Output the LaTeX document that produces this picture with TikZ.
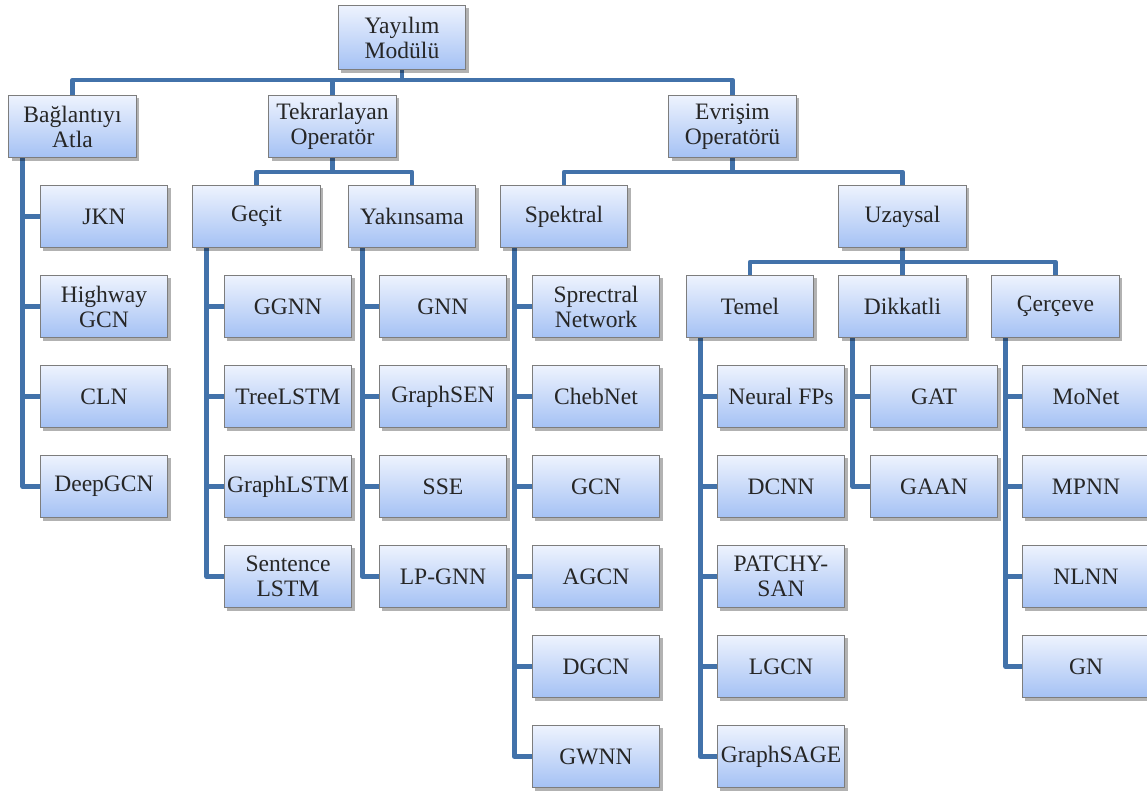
\documentclass[tikz,border=0pt]{standalone}
\usepackage{fontspec}
\setmainfont{Liberation Serif}
\usetikzlibrary{shadows,backgrounds}
\definecolor{boxtop}{RGB}{238,243,254}
\definecolor{boxbot}{RGB}{164,193,244}
\definecolor{boxedge}{RGB}{125,125,125}
\definecolor{linkblue}{RGB}{66,114,170}
\tikzset{
  box/.style={draw=boxedge, line width=0.6pt, top color=boxtop, bottom color=boxbot,
    minimum width=72.6pt, minimum height=35.7pt, inner sep=0.5pt, align=center,
    font=\fontsize{13.4}{14.2}\selectfont, text=black!85,
    drop shadow={shadow xshift=1.6pt, shadow yshift=-1.6pt, fill=black, opacity=0.3}},
  link/.style={draw=linkblue, line width=2.7pt, line join=round},
}
\begin{document}
\begin{tikzpicture}[x=0.02cm,y=-0.02cm]
\useasboundingbox (0,0) rectangle (1147,791);

% level 0 and 1
\node[box, minimum height=36.8pt] (root) at (402,37.5) {Yayılım\\Modülü};
\node[box] (bag) at (72.5,126.5) {Bağlantıyı\\Atla};
\node[box] (tek) at (332.5,126.5) {Tekrarlayan\\Operatör};
\node[box] (evr) at (732.5,126.5) {Evrişim\\Operatörü};

% skip connections
\node[box] (jkn) at (104,216.5) {JKN};
\node[box] (hwy) at (104,306.5) {Highway\\GCN};
\node[box] (cln) at (104,396.5) {CLN};
\node[box] (dgc) at (104,486.5) {DeepGCN};

% recurrent operators
\node[box] (gec) at (256.5,216.5) {Geçit};
\node[box] (yak) at (412,216.5) {Yakınsama};
\node[box] (ggnn) at (288,306.5) {GGNN};
\node[box] (tree) at (288,396.5) {TreeLSTM};
\node[box] (glstm) at (288,486.5) {GraphLSTM};
\node[box] (sent) at (288,576.5) {Sentence\\LSTM};
\node[box] (gnn) at (443,306.5) {GNN};
\node[box] (gsen) at (443,396.5) {GraphSEN};
\node[box] (sse) at (443,486.5) {SSE};
\node[box] (lpg) at (443,576.5) {LP-GNN};

% convolution operators
\node[box] (spe) at (564,216.5) {Spektral};
\node[box] (uza) at (902.5,216.5) {Uzaysal};
\node[box] (snet) at (596,306.5) {Sprectral\\Network};
\node[box] (cheb) at (596,396.5) {ChebNet};
\node[box] (gcn) at (596,486.5) {GCN};
\node[box] (agcn) at (596,576.5) {AGCN};
\node[box] (dgcn) at (596,666.5) {DGCN};
\node[box] (gwnn) at (596,756.5) {GWNN};

\node[box] (tem) at (750,306.5) {Temel};
\node[box] (dik) at (902.5,306.5) {Dikkatli};
\node[box] (cer) at (1055.5,306.5) {Çerçeve};
\node[box] (nfp) at (781,396.5) {Neural FPs};
\node[box] (dcnn) at (781,486.5) {DCNN};
\node[box] (pat) at (781,576.5) {PATCHY-\\SAN};
\node[box] (lgcn) at (781,666.5) {LGCN};
\node[box] (sage) at (781,756.5) {GraphSAGE};
\node[box] (gat) at (934,396.5) {GAT};
\node[box] (gaan) at (934,486.5) {GAAN};
\node[box] (mon) at (1086,396.5) {MoNet};
\node[box] (mpnn) at (1086,486.5) {MPNN};
\node[box] (nlnn) at (1086,576.5) {NLNN};
\node[box] (gn) at (1086,666.5) {GN};

\begin{pgfonlayer}{background}
  % bus bars between a parent and its children
  \coordinate (busA) at (402,80);
  \coordinate (busB) at (332.5,172);
  \coordinate (busC) at (732.5,172);
  \coordinate (busD) at (902.5,262);
  \draw[link] (root.south) -- (busA) -| (bag.north);
  \draw[link] (busA) -| (tek.north);
  \draw[link] (busA) -| (evr.north);
  \draw[link] (tek.south) -- (busB) -| (gec.north);
  \draw[link] (busB) -| (yak.north);
  \draw[link] (evr.south) -- (busC) -| (spe.north);
  \draw[link] (busC) -| (uza.north);
  \draw[link] (uza.south) -- (busD) -| (tem.north);
  \draw[link] (busD) -- (dik.north);
  \draw[link] (busD) -| (cer.north);
  % vertical lists
  \foreach \p/\cs in {bag/{jkn,hwy,cln,dgc},
                      gec/{ggnn,tree,glstm,sent},
                      yak/{gnn,gsen,sse,lpg},
                      spe/{snet,cheb,gcn,agcn,dgcn,gwnn},
                      tem/{nfp,dcnn,pat,lgcn,sage},
                      dik/{gat,gaan},
                      cer/{mon,mpnn,nlnn,gn}}{
    \foreach \c in \cs {
      \draw[link] ([xshift=8.3pt]\p.south west) |- (\c.west);
    }
  }
\end{pgfonlayer}
\end{tikzpicture}
\end{document}
